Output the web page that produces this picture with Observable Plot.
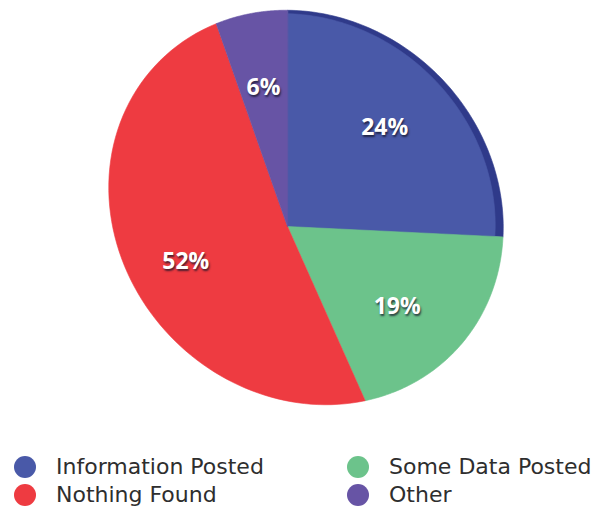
<!DOCTYPE html>
<html>
<head>
<meta charset="utf-8">
<script src="https://cdn.jsdelivr.net/npm/d3@7"></script>
<script src="https://cdn.jsdelivr.net/npm/@observablehq/plot@0.6"></script>
<style>
  html, body { margin: 0; padding: 0; background: #fff; }
  #wrap { width: 598px; height: 509px; overflow: hidden; }
  #legend {
    display: grid;
    grid-template-columns: 333px 265px;
    padding-top: 13px;
    font-family: "DejaVu Sans", sans-serif;
    font-size: 22px;
    line-height: 28px;
    color: #2e2e2e;
  }
  .item { display: flex; align-items: center; height: 28px; white-space: nowrap; }
  .swatch { width: 22px; height: 22px; border-radius: 50%; margin-left: 14px; margin-right: 20px; flex: none; }
  .pct text { text-shadow: 1px 2px 2px rgba(20, 20, 40, 0.75); }
</style>
</head>
<body>
<div id="wrap"><div id="chart"></div><div id="legend"></div></div>
<script>
// ---- data ----
const categories = ["Information Posted", "Some Data Posted", "Nothing Found", "Other"];
const percents = [24, 19, 52, 6];
const labels = ["24%", "19%", "52%", "6%"];
const colors = ["#4959a8", "#6cc38b", "#ee3b41", "#6754a5"];
const rimColor = "#2f3a8a";

// ---- layout of the tilted pie ----
const W = 598, H = 440;
const vertex = [287, 226];                 // where slices meet
const rimEllipse = {cx: 305.5, cy: 207, a: 207, b: 187, rot: Math.PI / 4};
// perspective (homography) of the tilted disc: unit circle (u right, v up) -> screen
const tilt = [[124.46, -25.6, 287], [-15.93, -204.96, 225], [-0.1721, -0.0892, 1]];

function project(u, v) {
  const w = tilt[2][0] * u + tilt[2][1] * v + tilt[2][2];
  return [(tilt[0][0] * u + tilt[0][1] * v + tilt[0][2]) / w,
          (tilt[1][0] * u + tilt[1][1] * v + tilt[1][2]) / w];
}
const c0 = project(0, 0);
function direction(theta) {
  const p = project(Math.sin(theta), Math.cos(theta));
  const dx = p[0] - c0[0], dy = p[1] - c0[1];
  const n = Math.hypot(dx, dy);
  return [dx / n, dy / n];
}
function rayToEdge(d) {
  const {cx, cy, a, b, rot} = rimEllipse;
  const e1 = [Math.cos(rot), Math.sin(rot)], e2 = [-Math.sin(rot), Math.cos(rot)];
  const q = [vertex[0] - cx, vertex[1] - cy];
  const d1 = d[0] * e1[0] + d[1] * e1[1], d2 = d[0] * e2[0] + d[1] * e2[1];
  const q1 = q[0] * e1[0] + q[1] * e1[1], q2 = q[0] * e2[0] + q[1] * e2[1];
  const A = d1 * d1 / (a * a) + d2 * d2 / (b * b);
  const B = 2 * (q1 * d1 / (a * a) + q2 * d2 / (b * b));
  const C = q1 * q1 / (a * a) + q2 * q2 / (b * b) - 1;
  return (-B + Math.sqrt(B * B - 4 * A * C)) / (2 * A);
}

const rows = categories.map((name, i) => ({name, value: percents[i], label: labels[i]}));
const arcs = d3.pie().sort(null).value(d => d.value)(rows);

function slicePoints(arc, inset) {
  const pts = [{name: arc.data.name, x: vertex[0], y: vertex[1]}];
  const n = 80;
  for (let i = 0; i <= n; i++) {
    const f = i / n;
    const th = arc.startAngle + (arc.endAngle - arc.startAngle) * f;
    const d = direction(th);
    const t = rayToEdge(d) * (1 - (inset ? inset(f) : 0));
    pts.push({name: arc.data.name, x: vertex[0] + t * d[0], y: vertex[1] + t * d[1]});
  }
  return pts;
}

const rimPts = slicePoints(arcs[0]).map(p => ({...p, name: "rim"}));
const facePts = [];
arcs.forEach((arc, i) => {
  const pts = i === 0 ? slicePoints(arc, f => 0.016 + 0.022 * f) : slicePoints(arc);
  facePts.push(...pts);
});
const labelPts = arcs.map(arc => {
  const th = (arc.startAngle + arc.endAngle) / 2;
  const d = direction(th);
  const t = rayToEdge(d) * 0.65;
  return {label: arc.data.label, x: vertex[0] + t * d[0], y: vertex[1] + t * d[1]};
});

const chart = Plot.plot({
  width: W, height: H, margin: 0,
  style: {background: "#fff"},
  x: {type: "linear", domain: [0, W], range: [0, W], axis: null},
  y: {type: "linear", domain: [0, H], range: [0, H], axis: null},
  color: {domain: categories, range: colors},
  marks: [
    Plot.line(rimPts, {x: "x", y: "y", z: "name", fill: rimColor, stroke: rimColor, strokeWidth: 0.6, curve: "linear-closed"}),
    Plot.line(facePts, {x: "x", y: "y", z: "name", fill: "name", stroke: "name", strokeWidth: 0.6, curve: "linear-closed"}),
    Plot.text(labelPts, {x: "x", y: "y", text: "label", fill: "#ffffff", className: "pct",
      fontFamily: "'Open Sans', sans-serif", fontWeight: 700, fontSize: 23, textAnchor: "middle", lineAnchor: "middle"})
  ]
});
document.getElementById("chart").appendChild(chart);

// ---- legend ----
const legend = document.getElementById("legend");
categories.forEach((name, i) => {
  const item = document.createElement("div");
  item.className = "item";
  const sw = document.createElement("span");
  sw.className = "swatch";
  sw.style.background = colors[i];
  const tx = document.createElement("span");
  tx.textContent = name;
  item.appendChild(sw);
  item.appendChild(tx);
  legend.appendChild(item);
});
</script>
</body>
</html>
